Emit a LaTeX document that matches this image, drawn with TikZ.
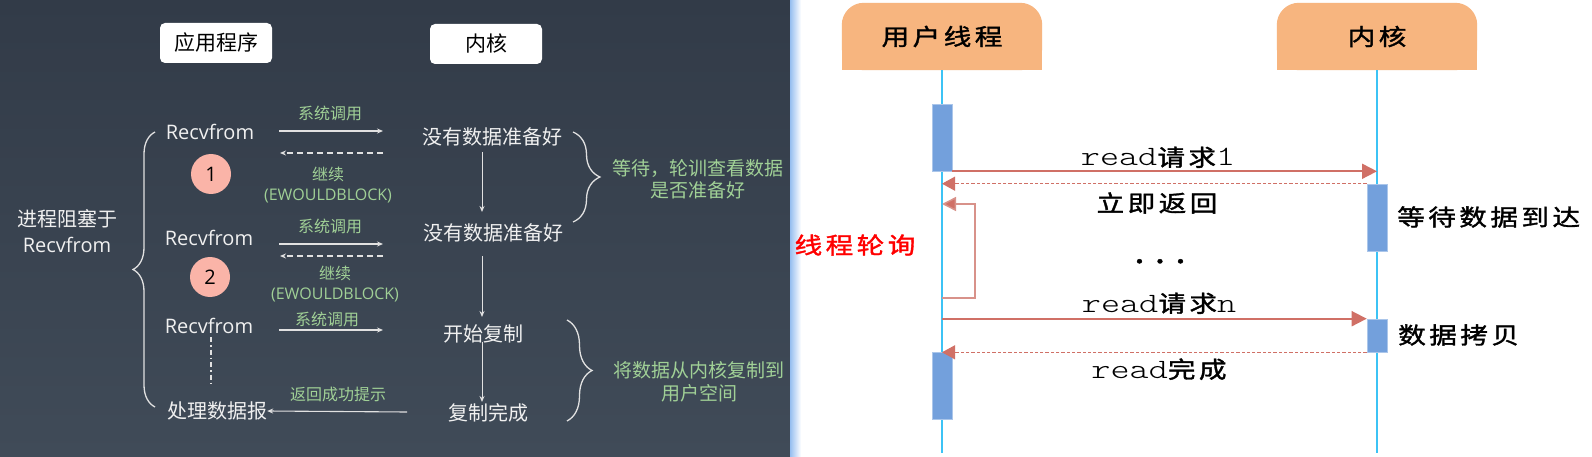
\documentclass[tikz,border=0pt]{standalone}
\usepackage{fontspec}
\setmainfont{Open Sans}
\newfontfamily\cjk{Noto Sans CJK SC}
\newfontfamily\seqcjk[FakeStretch=1.2,FakeBold=1.5,LetterSpace=15]{Noto Sans CJK SC}
\newfontfamily\seqtt[FakeStretch=1.3]{lmmonolt10-regular.otf}
\usetikzlibrary{
  arrows.meta, positioning, calc,
  decorations.pathreplacing, backgrounds
}
\definecolor{panelTop}{RGB}{50,59,72}
\definecolor{panelBot}{RGB}{64,75,88}
\definecolor{stripBlue}{RGB}{150,190,240}
\definecolor{txtwhite}{RGB}{240,240,240}
\definecolor{lblgreen}{RGB}{160,208,150}
\definecolor{numpink}{RGB}{250,180,168}
\definecolor{arrgray}{RGB}{225,225,225}
\definecolor{hdrorange}{RGB}{247,181,127}
\definecolor{lifecyan}{RGB}{60,195,245}
\definecolor{actblue}{RGB}{115,160,220}
\definecolor{msgred}{RGB}{208,112,102}
\definecolor{pollred}{RGB}{216,146,138}
\newcommand{\setfs}[1]{\fontsize{#1}{#1}\selectfont}
\newcommand{\seqmono}[1]{{\seqtt\setfs{28}#1}}
\newcommand{\seqzh}[1]{{\seqcjk\setfs{23}#1}}
\tikzset{
  plain/.style={inner sep=0pt, text=txtwhite, font=\setfs{20}},
  lbl/.style={inner sep=0pt, text=lblgreen, font=\fontsize{16}{20}\selectfont, align=center},
  note/.style={inner sep=0pt, text=lblgreen, font=\cjk\fontsize{19}{22.5}\selectfont, align=center},
  colhead/.style={fill=white, rounded corners=5pt, text=black, font=\cjk\setfs{21},
    minimum width=112pt, minimum height=40pt, inner sep=0pt},
  stepnum/.style={circle, fill=numpink, minimum size=40pt, inner sep=0pt, text=black, font=\setfs{20}},
  callarr/.style={draw=arrgray, line width=1.1pt, -{Stealth[length=6pt,width=5pt]}},
  backarr/.style={callarr, dash pattern=on 6pt off 4pt},
  flowarr/.style={draw=arrgray, line width=1pt, -{Stealth[length=6pt,width=5pt]}},
  gbrace/.style={draw=arrgray, line width=1.3pt, decorate},
  hdr/.style={minimum width=200pt, minimum height=67pt, inner sep=0pt, font=\seqcjk\setfs{23}},
  life/.style={draw=lifecyan, line width=1.6pt},
  act/.style={fill=actblue, draw=actblue!60!white, line width=0.6pt, minimum width=20pt, inner sep=0pt},
  req/.style={draw=msgred, line width=1.8pt, -{Triangle[length=15pt,width=15pt]}},
  ret/.style={draw=msgred, line width=1pt, dash pattern=on 3.3pt off 2pt, -{Triangle[length=13pt,width=14pt,fill=msgred]}},
  poll/.style={draw=pollred, line width=1.5pt, -{Triangle[length=14pt,width=14pt,fill=msgred]}},
  seqtxt/.style={inner sep=0pt, text=black}
}
\begin{document}
\begin{tikzpicture}[x=1pt,y=-1pt]
\useasboundingbox (0,0) rectangle (1592,457);
\begin{scope}[on background layer]
  \shade[top color=panelTop, bottom color=panelBot] (0,0) rectangle (790,457);
  \fill[white] (790,0) rectangle (1592,457);
  \shade[left color=stripBlue, right color=white] (790,0) rectangle (801,457);
\end{scope}

\node[colhead] (appbox) at (216,43) {应用程序};
\node[colhead] (kernbox) at (486,44) {内核};

\node[plain] (recvA) at (210,132) {Recvfrom};
\node[plain] (recvB) at (209,238) {Recvfrom};
\node[plain] (recvC) at (209,326) {Recvfrom};
\node[plain, font=\cjk\setfs{20}] (handle) at (217,411) {处理数据报};
\node[plain, align=center, font=\fontsize{20}{26}\selectfont] (blocked) at (67,231) {{\cjk 进程阻塞于}\\Recvfrom};
\node[stepnum] (numA) at (211,174) {1};
\node[stepnum] (numB) at (210,277) {2};

\node[plain, font=\cjk\setfs{20}] (nodataA) at (492,137) {没有数据准备好};
\node[plain, font=\cjk\setfs{20}] (nodataB) at (493,233) {没有数据准备好};
\node[plain, font=\cjk\setfs{20}] (startcp) at (483,334) {开始复制};
\node[plain, font=\cjk\setfs{20}] (donecp) at (488,413) {复制完成};

\foreach \nm/\yy in {A/131,B/244,C/330} {
  \coordinate (call\nm s) at (279,\yy);
  \coordinate (call\nm e) at (383,\yy);
  \draw[callarr] (call\nm s) -- (call\nm e);
}
\foreach \nm/\yy in {A/153,B/256} {
  \coordinate (back\nm s) at (383,\yy);
  \coordinate (back\nm e) at (280,\yy);
  \draw[backarr] (back\nm s) -- (back\nm e);
}
\node[lbl, font=\cjk\setfs{16}] (callAlbl) at (330,113) {系统调用};
\node[lbl, font=\cjk\setfs{16}] (callBlbl) at (330,226) {系统调用};
\node[lbl, font=\cjk\setfs{16}] (callClbl) at (327,319) {系统调用};
\node[lbl] (contA) at (328,185) {{\cjk 继续}\\(EWOULDBLOCK)};
\node[lbl] (contB) at (335,284) {{\cjk 继续}\\(EWOULDBLOCK)};

\coordinate (okS) at (407,412);
\draw[callarr] (okS) -- (handle.east);
\node[lbl, font=\cjk\setfs{16}] (oklbl) at (338,394) {返回成功提示};

\coordinate (wayS) at (211,337);
\coordinate (wayE) at (211,387);
\draw[draw=arrgray, line width=1.3pt, dash pattern=on 5pt off 3pt on 1.5pt off 3pt] (wayS) -- (wayE);

\foreach \nm/\ya/\yb in {A/152/212,B/256/317,C/342/402} {
  \coordinate (flow\nm s) at (482,\ya);
  \coordinate (flow\nm e) at (482,\yb);
  \draw[flowarr] (flow\nm s) -- (flow\nm e);
}

\draw[gbrace, decoration={brace, amplitude=22pt}] (155,407) -- (155,132);
\draw[gbrace, decoration={brace, amplitude=27pt}] (573,132) -- (573,222);
\draw[gbrace, decoration={brace, amplitude=25pt}] (567,320) -- (567,421);
\node[note] (waitnote) at (698,179) {等待，轮训查看数据\\是否准备好};
\node[note] (copynote) at (699,382) {将数据从内核复制到\\用户空间};

\node[hdr] (uhdr) at (942,36.5) {用户线程};
\node[hdr] (khdr) at (1377,36.5) {内核};
\begin{scope}[on background layer]
  \fill[hdrorange, rounded corners=22pt] (uhdr.north west) rectangle (uhdr.south east);
  \fill[hdrorange] (uhdr.west) rectangle (uhdr.south east);
  \fill[hdrorange, rounded corners=22pt] (khdr.north west) rectangle (khdr.south east);
  \fill[hdrorange] (khdr.west) rectangle (khdr.south east);
\end{scope}
\coordinate (bot) at (0,453);
\draw[life] (uhdr.south) -- (uhdr.south |- bot);
\draw[life] (khdr.south) -- (khdr.south |- bot);

\node[act, minimum height=67pt] (uact1) at (942,137.5) {};
\node[act, minimum height=67pt] (kact1) at (1377,217.5) {};
\node[act, minimum height=33pt] (kact2) at (1377,335.5) {};
\node[act, minimum height=67pt] (uact2) at (942,385.5) {};

\draw[req] (uact1.south east) -- (uact1.south east -| khdr.south);
\draw[ret] (kact1.north west) -- (kact1.north west -| uhdr.south);
\coordinate (pollS) at (942,298);
\coordinate (pollT) at (942,204);
\draw[poll] (pollS) -- ++(33,0) |- (pollT);
\draw[req] (kact2.north west -| uhdr.south) -- (kact2.north west);
\draw[ret] (kact2.south west) -- (kact2.south west -| uhdr.south);

\node[seqtxt, anchor=base] (req1lbl) at (1158,166) {\seqmono{read}\seqzh{请求}\seqmono{1}};
\node[seqtxt] (ret1lbl) at (1157,203) {\seqzh{立即返回}};
\node[seqtxt, anchor=base] (dots) at (1160,263) {\seqcjk\setfs{30}\addfontfeature{LetterSpace=35}...};
\node[seqtxt, anchor=base] (reqnlbl) at (1159,312) {\seqmono{read}\seqzh{请求}\seqmono{n}};
\node[seqtxt, anchor=base] (retnlbl) at (1159,378) {\seqmono{read}\seqzh{完成}};
\node[seqtxt, anchor=west] (waittxt) at (1397,217) {\seqzh{等待数据到达}};
\node[seqtxt, anchor=west] (copytxt) at (1398,335) {\seqzh{数据拷贝}};
\node[seqtxt, text=red] (polltxt) at (855,245) {\seqzh{线程轮询}};
\end{tikzpicture}
\end{document}
